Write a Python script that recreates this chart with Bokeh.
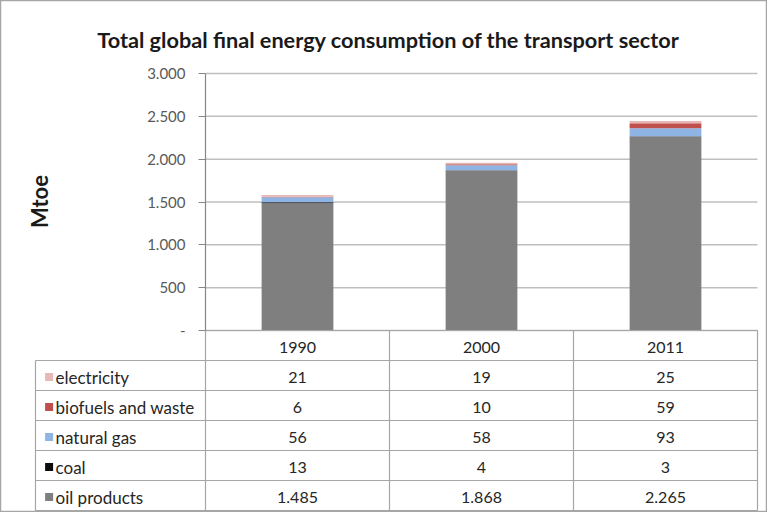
import math
from bokeh.plotting import figure
from bokeh.models import Range1d, Label, FixedTicker, LinearAxis, ColumnDataSource
from bokeh.embed import file_html
from bokeh.resources import INLINE
from bokeh.core.properties import value

# ---------------- data ----------------
years = ["1990", "2000", "2011"]
oil_products = [1485, 1868, 2265]
coal = [13, 4, 3]
natural_gas = [56, 58, 93]
biofuels_and_waste = [6, 10, 59]
electricity = [21, 19, 25]
series_names = ["oil products", "coal", "natural gas", "biofuels and waste", "electricity"]
series_colors = ["#7f7f7f", "#0d0d0d", "#8eb4e3", "#c0504d", "#e6b9b8"]
y_ticks = [0, 500, 1000, 1500, 2000, 2500, 3000]
title_text = "Total global final energy consumption of the transport sector"
y_label = "Mtoe"


def fmt(v):
    return "-" if v == 0 else f"{v:,}".replace(",", ".")


series_values = [oil_products, coal, natural_gas, biofuels_and_waste, electricity]

# ---------------- layout constants ----------------
W, H = 767, 512
FONT = value("Lato")
x0_px = 205.0          # x of first column boundary (fig px)
col_px = 184.0         # column width px
y0_px = 330.0          # y of zero line (fig px from top)
y_scale = 257.0 / 3000  # px per Mtoe
row_px = 30.0

x_start = -x0_px / col_px
x_end = (W - x0_px) / col_px
y_start = -(H - y0_px) / y_scale
y_end = y0_px / y_scale

p = figure(width=W, height=H, x_range=Range1d(x_start, x_end),
           y_range=Range1d(y_start, y_end), output_backend="svg",
           toolbar_location=None, min_border=0,
           x_axis_location=None, y_axis_location=None,
           background_fill_color="white", border_fill_color="white")
p.outline_line_color = "#a6a6a6"
p.outline_line_width = 1.5
p.grid.visible = False

# table rows range (0 = header top, rows increase downward)
p.extra_y_ranges = {"tbl": Range1d(start=(H - y0_px) / row_px, end=-y0_px / row_px)}

ncat = len(years)
xs = [i + 0.5 for i in range(ncat)]

# gridlines
p.segment(x0=[0] * len(y_ticks), x1=[ncat] * len(y_ticks), y0=y_ticks, y1=y_ticks,
          line_color="#bfbfbf", line_width=1.5)

# bars
src = {"x": xs}
for name, vals in zip(series_names, series_values):
    src[name] = vals
p.vbar_stack(series_names, x="x", width=0.39, color=series_colors,
             source=ColumnDataSource(src), line_color=None)

# y axis
ax = LinearAxis(fixed_location=0, bounds=(0, 3000), ticker=FixedTicker(ticks=y_ticks))
ax.major_label_overrides = {t: fmt(t) for t in y_ticks}
ax.axis_line_color = "#868686"
ax.axis_line_width = 1.2
ax.major_tick_line_color = "#868686"
ax.major_tick_out = 7
ax.major_tick_in = 0
ax.minor_tick_line_color = None
ax.major_label_standoff = 13
ax.major_label_text_font = "Lato"
ax.major_label_text_font_size = "15px"
ax.major_label_text_color = "#595959"
p.add_layout(ax, "left")

# y label
p.add_layout(Label(x=-0.902, y=1506, text=y_label, angle=math.pi / 2,
                   text_align="center", text_baseline="middle",
                   text_font="Lato", text_font_style="bold",
                   text_font_size="22px", text_color="#1a1a1a"))

# title
p.add_layout(Label(x=388, y=H - 39, x_units="screen", y_units="screen",
                   text=title_text, text_align="center", text_baseline="alphabetic",
                   text_font="Lato", text_font_style="bold",
                   text_font_size="21.7px", text_color="#1a1a1a"))

# ---------------- data table ----------------
nrows = len(series_names)
left_x = -0.924
tline = "#a6a6a6"
# horizontal lines
hx0 = [0] + [left_x] * nrows
hx1 = [ncat] * (nrows + 1)
hy = [0] + [r + 1 for r in range(nrows)]
p.segment(x0=hx0, x1=hx1, y0=hy, y1=hy, line_color=tline, line_width=1.2, y_range_name="tbl")
p.segment(x0=[left_x], x1=[ncat], y0=[nrows + 1], y1=[nrows + 1], line_color=tline,
          line_width=1.2, y_range_name="tbl")
# vertical lines
vx = [left_x] + list(range(ncat + 1))
vy0 = [1] + [0] * (ncat + 1)
vy1 = [nrows + 1] * (ncat + 2)
p.segment(x0=vx, x1=vx, y0=vy0, y1=vy1, line_color=tline, line_width=1.2, y_range_name="tbl")

# header
p.text(x=xs, y=[0.55] * ncat, text=years, text_align="center", text_baseline="middle",
       text_font=FONT, text_font_size="16px", text_color="#262626", y_range_name="tbl")

# rows (top to bottom: reverse of stacking order)
row_names = series_names[::-1]
row_colors = series_colors[::-1]
row_values = series_values[::-1]
ry = [r + 1.55 for r in range(nrows)]
p.scatter(x=[-0.85] * nrows, y=ry, marker="square", size=8, color=row_colors,
          line_color=None, y_range_name="tbl")
p.text(x=[-0.815] * nrows, y=ry, text=row_names, text_align="left", text_baseline="middle",
       text_font=FONT, text_font_size="17px", text_color="#262626", y_range_name="tbl")
vx_list, vy_list, vt_list = [], [], []
for r, vals in enumerate(row_values):
    for c, v in enumerate(vals):
        vx_list.append(xs[c])
        vy_list.append(r + 1.55)
        vt_list.append(fmt(v))
p.text(x=vx_list, y=vy_list, text=vt_list, text_align="center", text_baseline="middle",
       text_font=FONT, text_font_size="16px", text_color="#262626", y_range_name="tbl")

open("out.html", "w").write(file_html(p, INLINE))
